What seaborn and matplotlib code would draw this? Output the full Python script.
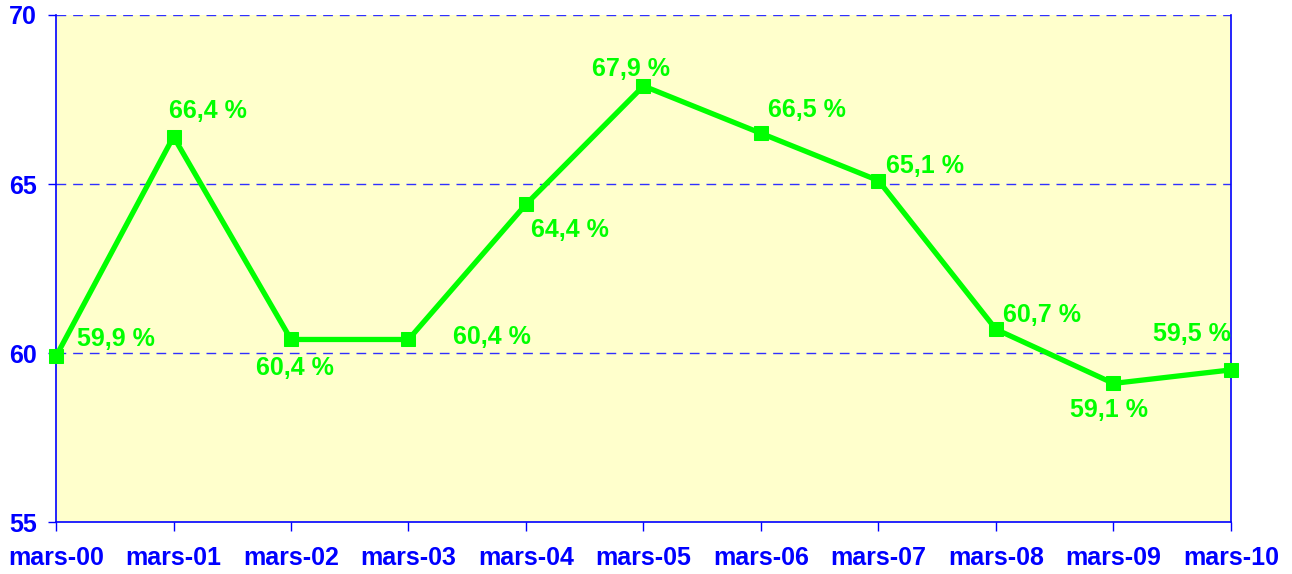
"""
Line chart of March values 2000-2010 with percent labels.
"""

import matplotlib.pyplot as plt
import pandas as pd
import seaborn as sns

periods = ["mars-00", "mars-01", "mars-02", "mars-03", "mars-04", "mars-05",
           "mars-06", "mars-07", "mars-08", "mars-09", "mars-10"]
values = [59.9, 66.4, 60.4, 60.4, 64.4, 67.9, 66.5, 65.1, 60.7, 59.1, 59.5]
# label offsets in pixels relative to each point
label_dx = [60, 34, 4, 83, 44, -12, 46, 47, 46, -4, -39]
label_dy = [17, 26, -29, 2, -26, 17, 23, 15, 14, -27, 36]
y_ticks = [55, 60, 65, 70]

GREEN = "#00FF00"
BLUE = "#0000FF"

sns.set_theme(style="white")
plt.rcParams["font.family"] = ["Liberation Sans", "DejaVu Sans"]

df = pd.DataFrame({"period": periods, "value": values})
df["pos"] = range(len(df))

fig = plt.figure(figsize=(12.92, 5.74), dpi=100)
ax = fig.add_axes([56 / 1292, 1 - 522 / 574, (1231 - 56) / 1292, (522 - 15) / 574])
ax.set_facecolor("#FFFFCC")

sns.lineplot(data=df, x="pos", y="value", ax=ax, color=GREEN, linewidth=3.8,
             marker="s", markersize=10.5, markeredgecolor=GREEN, zorder=3,
             clip_on=False)

for x, y, dx, dy in zip(df["pos"], df["value"], label_dx, label_dy):
    ax.annotate(f"{y:.1f} %".replace(".", ","), (x, y), xytext=(dx, dy),
                textcoords="offset pixels", ha="center", va="center",
                color=GREEN, fontsize=18, fontweight="bold", zorder=4)

ax.set_xlim(0, len(periods) - 1)
ax.set_ylim(55, 70)
ax.set_xticks(df["pos"])
ax.set_xticklabels(periods)
ax.set_yticks(y_ticks)
for yv in y_ticks[1:]:
    ax.axhline(yv, color="#3030FF", linestyle=(0, (7, 5)), linewidth=1, zorder=1)

for side in ["left", "bottom", "right"]:
    ax.spines[side].set_color(BLUE)
    ax.spines[side].set_linewidth(1.2)
ax.spines["top"].set_visible(False)

ax.tick_params(axis="x", colors=BLUE, length=6.5, width=1, pad=11, labelsize=18)
ax.tick_params(axis="y", colors=BLUE, length=5.5, width=1, pad=8, labelsize=18)
ax.tick_params(bottom=True, left=True)
for lbl in ax.get_xticklabels() + ax.get_yticklabels():
    lbl.set_fontweight("bold")
ax.set_xlabel("")
ax.set_ylabel("")

fig.savefig("out.png", dpi=100)
